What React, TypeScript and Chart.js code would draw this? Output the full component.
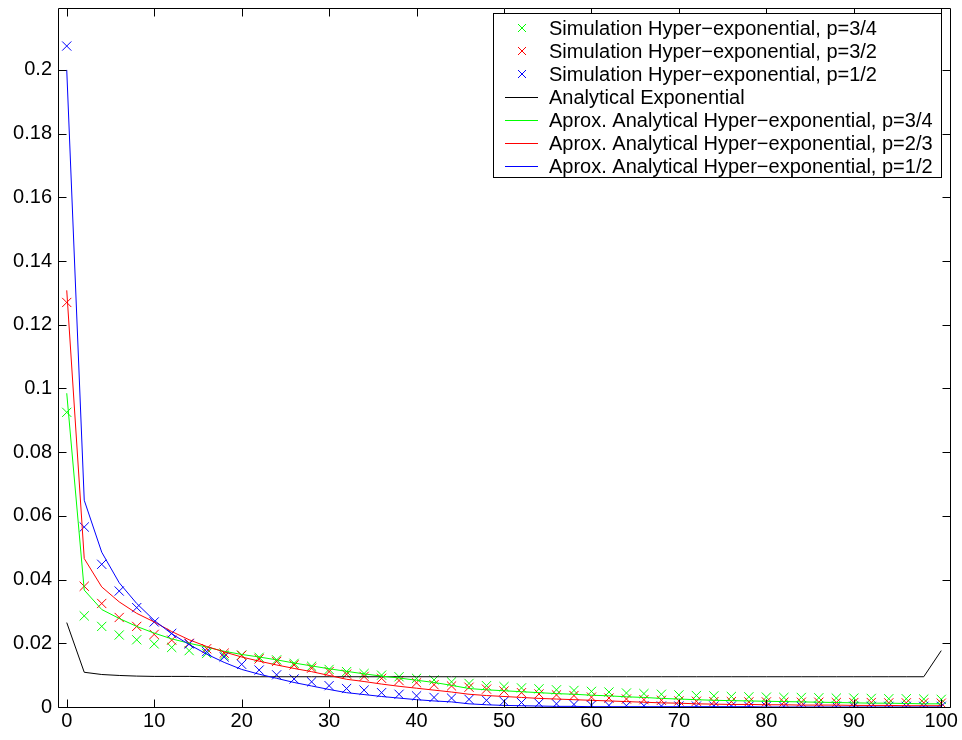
import React, { useEffect, useRef } from "react";
import { Chart, registerables } from "chart.js";

Chart.register(...registerables);

const xValues = [0, 2, 4, 6, 8, 10, 12, 14, 16, 18, 20, 22, 24, 26, 28, 30, 32, 34, 36, 38, 40, 42, 44, 46, 48, 50, 52, 54, 56, 58, 60, 62, 64, 66, 68, 70, 72, 74, 76, 78, 80, 82, 84, 86, 88, 90, 92, 94, 96, 98, 100];

const xTicks = [0, 10, 20, 30, 40, 50, 60, 70, 80, 90, 100];
const yTicks = [0, 0.02, 0.04, 0.06, 0.08, 0.1, 0.12, 0.14, 0.16, 0.18, 0.2];

const simGreen = [0.0925, 0.0286, 0.0253, 0.0226, 0.0211, 0.0198, 0.0187, 0.0177, 0.0168, 0.0162, 0.0163, 0.0156, 0.0148, 0.0137, 0.0128, 0.0118, 0.0111, 0.0105, 0.0100, 0.0095, 0.0090, 0.0085, 0.0079, 0.0074, 0.0067, 0.0064, 0.0060, 0.0057, 0.0054, 0.0052, 0.0049, 0.0047, 0.0044, 0.0042, 0.0040, 0.0038, 0.0036, 0.0035, 0.0033, 0.0032, 0.0031, 0.0030, 0.0030, 0.0029, 0.0028, 0.0028, 0.0027, 0.0026, 0.0026, 0.0025, 0.0024];

const simRed = [0.1270, 0.0379, 0.0325, 0.0281, 0.0253, 0.0228, 0.0210, 0.0200, 0.0183, 0.0169, 0.0162, 0.0151, 0.0143, 0.0132, 0.0122, 0.0111, 0.0103, 0.0096, 0.0090, 0.0083, 0.0076, 0.0070, 0.0066, 0.0062, 0.0056, 0.0050, 0.0045, 0.0041, 0.0038, 0.0036, 0.0031, 0.0028, 0.0025, 0.0023, 0.0021, 0.0019, 0.0018, 0.0017, 0.0017, 0.0016, 0.0016, 0.0015, 0.0015, 0.0015, 0.0014, 0.0014, 0.0014, 0.0013, 0.0013, 0.0013, 0.0012];

const simBlue = [0.2075, 0.0565, 0.0448, 0.0364, 0.0312, 0.0267, 0.0231, 0.0198, 0.0174, 0.0157, 0.0134, 0.0116, 0.0101, 0.0088, 0.0079, 0.0067, 0.0058, 0.0053, 0.0045, 0.0040, 0.0035, 0.0030, 0.0028, 0.0024, 0.0021, 0.0018, 0.0014, 0.0012, 0.0010, 0.0008, 0.0006, 0.0005, 0.0004, 0.0004, 0.0003, 0.0003, 0.0003, 0.0003, 0.0003, 0.0002, 0.0002, 0.0002, 0.0002, 0.0002, 0.0002, 0.0002, 0.0002, 0.0002, 0.0002, 0.0002, 0.0002];

const analyticExp = [0.0265, 0.0109, 0.0102, 0.0099, 0.0097, 0.0096, 0.0096, 0.0096, 0.0095, 0.0095, 0.0095, 0.0095, 0.0095, 0.0095, 0.0095, 0.0095, 0.0095, 0.0095, 0.0095, 0.0095, 0.0095, 0.0095, 0.0095, 0.0095, 0.0095, 0.0095, 0.0095, 0.0095, 0.0095, 0.0095, 0.0095, 0.0095, 0.0095, 0.0095, 0.0095, 0.0095, 0.0095, 0.0095, 0.0095, 0.0095, 0.0095, 0.0095, 0.0095, 0.0095, 0.0095, 0.0095, 0.0095, 0.0095, 0.0095, 0.0095, 0.0177];

const approxGreen = [0.0985, 0.0367, 0.0306, 0.0278, 0.0253, 0.0232, 0.0214, 0.0200, 0.0188, 0.0175, 0.0165, 0.0157, 0.0148, 0.0138, 0.0129, 0.0120, 0.0112, 0.0104, 0.0097, 0.0091, 0.0084, 0.0077, 0.0068, 0.0058, 0.0054, 0.0051, 0.0048, 0.0045, 0.0042, 0.0040, 0.0037, 0.0035, 0.0032, 0.0030, 0.0027, 0.0025, 0.0023, 0.0021, 0.0020, 0.0019, 0.0018, 0.0017, 0.0016, 0.0015, 0.0014, 0.0013, 0.0012, 0.0012, 0.0011, 0.0010, 0.0010];

const approxRed = [0.1308, 0.0466, 0.0377, 0.0330, 0.0294, 0.0267, 0.0237, 0.0211, 0.0190, 0.0173, 0.0157, 0.0144, 0.0132, 0.0121, 0.0111, 0.0099, 0.0087, 0.0080, 0.0072, 0.0065, 0.0059, 0.0053, 0.0047, 0.0040, 0.0036, 0.0033, 0.0030, 0.0027, 0.0025, 0.0023, 0.0021, 0.0019, 0.0017, 0.0015, 0.0013, 0.0012, 0.0010, 0.0009, 0.0008, 0.0008, 0.0007, 0.0007, 0.0006, 0.0006, 0.0006, 0.0005, 0.0005, 0.0005, 0.0004, 0.0004, 0.0004];

const approxBlue = [0.2000, 0.0649, 0.0486, 0.0390, 0.0325, 0.0272, 0.0230, 0.0196, 0.0166, 0.0140, 0.0118, 0.0103, 0.0090, 0.0077, 0.0066, 0.0055, 0.0045, 0.0039, 0.0033, 0.0028, 0.0023, 0.0019, 0.0016, 0.0010, 0.0007, 0.0005, 0.0004, 0.0003, 0.0002, 0.0002, 0.0001, 0.0001, 0.0001, 0.0001, 0.0001, 0.0001, 0.0001, 0.0001, 0.0001, 0.0001, 0.0000, 0.0000, 0.0000, 0.0000, 0.0000, 0.0000, 0.0000, 0.0000, 0.0000, 0.0000, 0.0000];

const seriesLabels = [
  "Simulation Hyper\u2212exponential, p=3/4",
  "Simulation Hyper\u2212exponential, p=3/2",
  "Simulation Hyper\u2212exponential, p=1/2",
  "Analytical Exponential",
  "Aprox. Analytical Hyper\u2212exponential, p=3/4",
  "Aprox. Analytical Hyper\u2212exponential, p=2/3",
  "Aprox. Analytical Hyper\u2212exponential, p=1/2",
];
const seriesColors = ["#00ff00", "#ff0000", "#0000ff", "#000000", "#00ff00", "#ff0000", "#0000ff"];
const seriesIsMarker = [true, true, true, false, false, false, false];

const FONT = '"Liberation Sans", Arial, Helvetica, sans-serif';

const toPts = (ys: number[]) => xValues.map((x, i) => ({ x, y: ys[i] }));

const frameAndLegend = {
  id: "frameAndLegend",
  afterDraw(chart: any) {
    const { ctx, chartArea } = chart;
    const { left, right, top, bottom } = chartArea;
    const xs = chart.scales.x;
    const ys = chart.scales.y;
    ctx.save();
    ctx.strokeStyle = "#000";
    ctx.lineWidth = 1;
    const L = Math.round(left) + 0.5;
    const R = Math.round(right) + 0.5;
    const T = Math.round(top) + 0.5;
    const B = Math.round(bottom) + 0.5;
    ctx.beginPath();
    ctx.rect(L, T, R - L, B - T);
    ctx.stroke();
    const tl = 8;
    ctx.beginPath();
    xTicks.forEach((v) => {
      const px = Math.round(xs.getPixelForValue(v)) + 0.5;
      ctx.moveTo(px, B);
      ctx.lineTo(px, B - tl);
      ctx.moveTo(px, T);
      ctx.lineTo(px, T + tl);
    });
    yTicks.forEach((v) => {
      const py = Math.round(ys.getPixelForValue(v)) + 0.5;
      ctx.moveTo(L, py);
      ctx.lineTo(L + tl, py);
      ctx.moveTo(R, py);
      ctx.lineTo(R - tl, py);
    });
    ctx.stroke();

    // legend
    const bx = 493.5, by = 13.5, bw = 448, bh = 164;
    ctx.fillStyle = "#fff";
    ctx.fillRect(bx, by, bw, bh);
    ctx.strokeStyle = "#000";
    ctx.strokeRect(bx, by, bw, bh);
    ctx.font = `20px ${FONT}`;
    ctx.textBaseline = "middle";
    ctx.textAlign = "left";
    seriesLabels.forEach((label, i) => {
      const cy = 28 + i * 23;
      ctx.strokeStyle = seriesColors[i];
      ctx.lineWidth = 1;
      ctx.beginPath();
      if (seriesIsMarker[i]) {
        const r = 4;
        ctx.moveTo(522 - r, cy - r);
        ctx.lineTo(522 + r, cy + r);
        ctx.moveTo(522 - r, cy + r);
        ctx.lineTo(522 + r, cy - r);
      } else {
        ctx.moveTo(505, cy + 0.5);
        ctx.lineTo(538, cy + 0.5);
      }
      ctx.stroke();
      ctx.fillStyle = "#000";
      ctx.fillText(label, 549, cy + 1);
    });
    ctx.restore();
  },
};

export default function App() {
  const ref = useRef<HTMLCanvasElement | null>(null);
  useEffect(() => {
    if (!ref.current) return;
    const sim = (i: number, ys: number[]) => ({
      label: seriesLabels[i],
      data: toPts(ys),
      showLine: false,
      borderColor: seriesColors[i],
      backgroundColor: seriesColors[i],
      pointStyle: "crossRot",
      pointRadius: 6.5,
      pointBorderWidth: 1,
      pointHoverRadius: 6.5,
      order: 10 - i,
    });
    const line = (i: number, ys: number[]) => ({
      label: seriesLabels[i],
      data: toPts(ys),
      showLine: true,
      borderColor: seriesColors[i],
      backgroundColor: seriesColors[i],
      borderWidth: 1,
      pointRadius: 0,
      pointHoverRadius: 0,
      tension: 0,
      order: 10 - i,
    });
    const chart = new Chart(ref.current, {
      type: "scatter",
      data: {
        datasets: [
          sim(0, simGreen),
          sim(1, simRed),
          sim(2, simBlue),
          line(3, analyticExp),
          line(4, approxGreen),
          line(5, approxRed),
          line(6, approxBlue),
        ] as any,
      },
      options: {
        responsive: false,
        animation: false,
        devicePixelRatio: 1,
        layout: { padding: { top: 4, right: 12, left: 0, bottom: 0 } },
        plugins: { legend: { display: false }, tooltip: { enabled: false } },
        scales: {
          x: {
            type: "linear",
            min: -1,
            max: 101,
            grid: { display: false, drawTicks: false },
            border: { display: false },
            afterBuildTicks: (s: any) => {
              s.ticks = xTicks.map((v) => ({ value: v }));
            },
            afterFit: (s: any) => {
              s.height = 33;
              s.paddingLeft = 0;
              s.paddingRight = 0;
            },
            ticks: {
              autoSkip: false,
              maxRotation: 0,
              padding: 2,
              color: "#000",
              font: { family: FONT, size: 20 },
              callback: (v: any) => String(v),
            },
          },
          y: {
            type: "linear",
            min: 0,
            max: 0.2196,
            grid: { display: false, drawTicks: false },
            border: { display: false },
            afterBuildTicks: (s: any) => {
              s.ticks = yTicks.map((v) => ({ value: v }));
            },
            afterFit: (s: any) => {
              s.width = 58;
              s.paddingTop = 0;
              s.paddingBottom = 0;
            },
            ticks: {
              autoSkip: false,
              padding: 6,
              color: "#000",
              font: { family: FONT, size: 20 },
              callback: (v: any) => String(Number(Number(v).toFixed(2))),
            },
          },
        },
      },
      plugins: [frameAndLegend],
    });
    return () => chart.destroy();
  }, []);
  return (
    <div style={{ position: "absolute", left: 0, top: 0, width: 962, height: 740, background: "#fff" }}>
      <canvas ref={ref} width={962} height={740} style={{ display: "block" }} />
    </div>
  );
}
